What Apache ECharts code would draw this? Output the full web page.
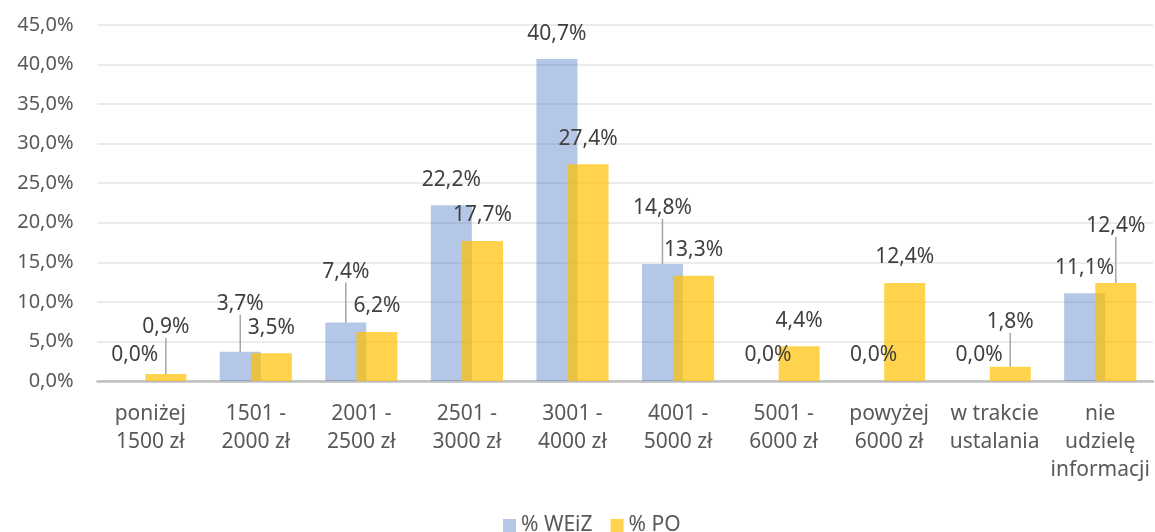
<!DOCTYPE html>
<html>
<head>
<meta charset="utf-8">
<script src="https://cdn.jsdelivr.net/npm/echarts@6/dist/echarts.min.js"></script>
<style>
  html, body { margin: 0; padding: 0; background: #fff; }
  #chart { width: 1155px; height: 532px; }
</style>
</head>
<body>
<div id="chart"></div>
<script>
const categories = [
  "poniżej\n1500 zł", "1501 -\n2000 zł", "2001 -\n2500 zł", "2501 -\n3000 zł",
  "3001 -\n4000 zł", "4001 -\n5000 zł", "5001 -\n6000 zł", "powyżej\n6000 zł",
  "w trakcie\nustalania", "nie\nudzielę\ninformacji"
];
const weizValues = [0.0, 3.7, 7.4, 22.2, 40.7, 14.8, 0.0, 0.0, 0.0, 11.1];
const poValues = [0.9, 3.5, 6.2, 17.7, 27.4, 13.3, 4.4, 12.4, 1.8, 12.4];
const yTicks = { min: 0, max: 45, step: 5 };

// labels that were dragged up in the original (px), they get a leader line
const weizLift = [0, 22, 25, 0, 0, 30, 0, 0, 0, 0];
const poLift = [21, 0, 0, 0, 0, 0, 0, 0, 19, 31];

const FONT = "Noto Sans";
const pct = v => v.toFixed(1).replace(".", ",") + "%";

function buildItems(values, lift) {
  return values.map((v, i) => {
    if (!lift[i]) return { value: v };
    return {
      value: v,
      label: { padding: [0, 0, 6, 0] },
      labelLine: { show: true }
    };
  });
}

function moveLabels(lift) {
  return function (params) {
    const l = lift[params.dataIndex];
    return l ? { dy: 6 - l } : {};
  };
}

const chart = echarts.init(document.getElementById("chart"));

const barLabel = {
  show: true,
  position: "top",
  distance: 15,
  color: "#404040",
  fontFamily: FONT,
  fontSize: 21,
  formatter: p => pct(p.value)
};
const leader = {
  show: false,
  length2: 0,
  lineStyle: { color: "#a6a6a6", width: 1.5 }
};

const option = {
  animation: false,
  textStyle: { fontFamily: FONT },
  grid: {
    left: 97.5,
    right: 2,
    top: 25,
    bottom: 151,
    outerBoundsMode: "none"
  },
  legend: {
    data: ["% WEiZ", "% PO"],
    left: 503,
    top: 515,
    padding: 0,
    itemWidth: 13,
    itemHeight: 13,
    itemGap: 18,
    icon: "rect",
    textStyle: { color: "#595959", fontSize: 21, fontFamily: FONT }
  },
  xAxis: {
    type: "category",
    data: categories,
    axisTick: { show: false },
    axisLine: { lineStyle: { color: "#bfbfbf", width: 2.5 } },
    axisLabel: {
      color: "#595959",
      fontSize: 21,
      lineHeight: 28,
      margin: 19,
      fontFamily: FONT,
      interval: 0
    }
  },
  yAxis: {
    type: "value",
    min: yTicks.min,
    max: yTicks.max,
    interval: yTicks.step,
    axisLine: { show: false },
    axisTick: { show: false },
    splitLine: { lineStyle: { color: "#e4e4e4", width: 1.5 } },
    axisLabel: {
      color: "#595959",
      fontSize: 20,
      margin: 24,
      fontFamily: FONT,
      formatter: v => pct(v)
    }
  },
  series: [
    {
      name: "% WEiZ",
      type: "bar",
      barWidth: 41,
      barGap: "-24%",
      itemStyle: { color: "rgba(68,114,196,0.4)" },
      label: barLabel,
      labelLine: leader,
      labelLayout: moveLabels(weizLift),
      data: buildItems(weizValues, weizLift)
    },
    {
      name: "% PO",
      type: "bar",
      barWidth: 41,
      barGap: "-24%",
      itemStyle: { color: "rgba(255,192,0,0.7)" },
      label: barLabel,
      labelLine: leader,
      labelLayout: moveLabels(poLift),
      data: buildItems(poValues, poLift)
    }
  ]
};

chart.setOption(option);
</script>
</body>
</html>
